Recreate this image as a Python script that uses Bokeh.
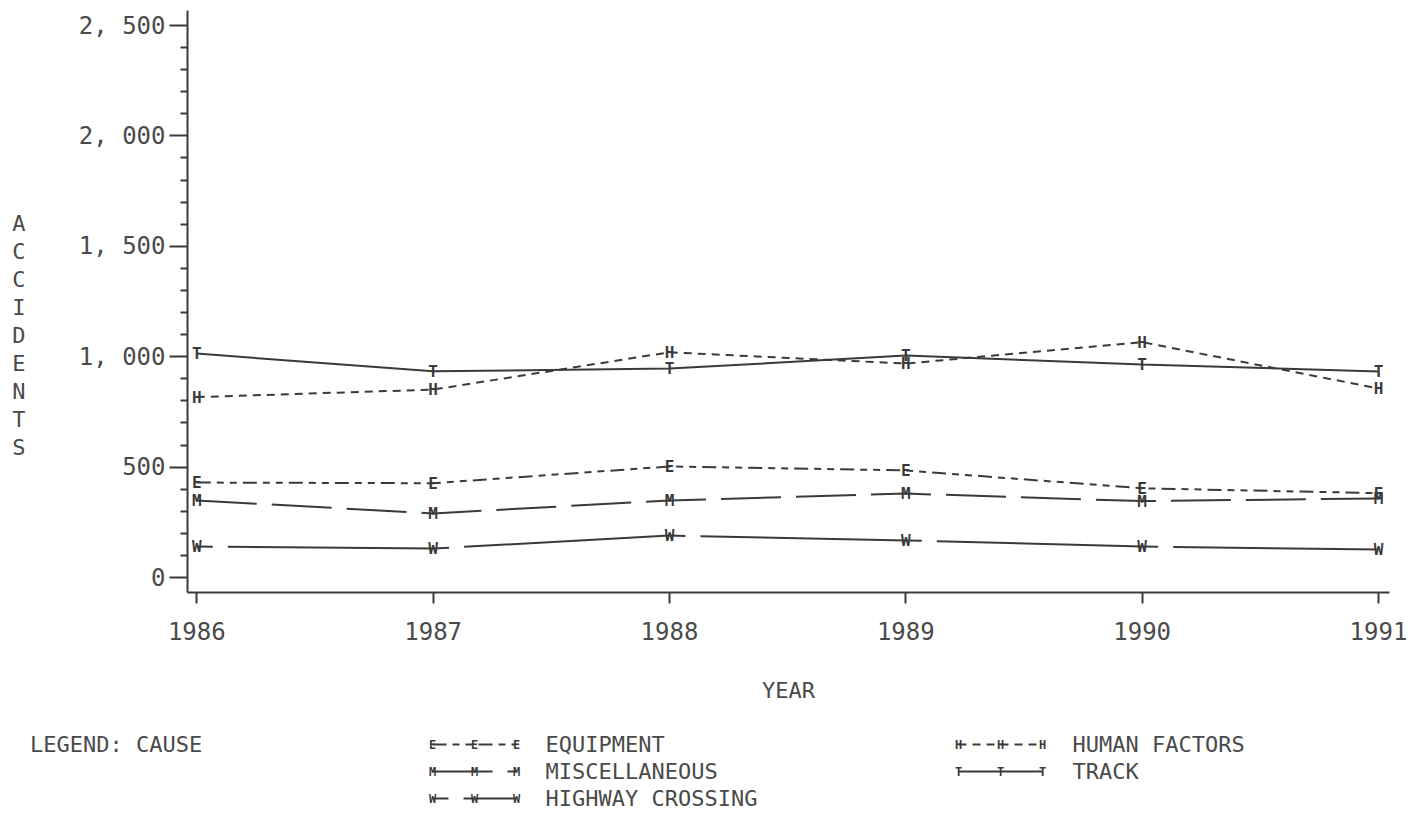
from bokeh.plotting import figure
from bokeh.models import Range1d, FixedTicker, LinearAxis
from bokeh.layouts import column
from bokeh.embed import file_html
from bokeh.resources import INLINE
from bokeh.core.properties import value

# ---- data ----
years = [1986, 1987, 1988, 1989, 1990, 1991]
equipment = [430, 427, 503, 485, 404, 382]
human_factors = [817, 851, 1020, 969, 1066, 856]
miscellaneous = [349, 290, 349, 380, 346, 358]
highway_crossing = [140, 131, 190, 168, 140, 127]
track = [1014, 934, 946, 1005, 965, 933]

y_ticks = [0, 500, 1000, 1500, 2000, 2500]
y_tick_labels = ["0", "500", "1, 000", "1, 500", "2, 000", "2, 500"]
y_minor_ticks = [100, 200, 300, 400, 600, 700, 800, 900, 1100, 1200, 1300, 1400,
                 1600, 1700, 1800, 1900, 2100, 2200, 2300, 2400]
y_title = "ACCIDENTS"
x_title = "YEAR"
legend_title = "LEGEND:  CAUSE"

series_names = ["EQUIPMENT", "MISCELLANEOUS", "HIGHWAY CROSSING", "HUMAN FACTORS", "TRACK"]
series_values = [equipment, miscellaneous, highway_crossing, human_factors, track]
series_letters = ["E", "M", "W", "H", "T"]

# ---- styles / layout ----
FONT = "DejaVu Sans Mono"
INK = "#3a3a3a"
TXT = "#4a4a4a"
dashes = {"EQUIPMENT": "14 6 7 6 7 6", "MISCELLANEOUS": "60 15",
          "HIGHWAY CROSSING": "16 15 3000", "HUMAN FACTORS": "8 6", "TRACK": "solid"}
segmented = {"HIGHWAY CROSSING"}

PX_PER_YEAR = 236.24
PX_PER_UNIT = 0.2208


def xpx(px):
    return years[0] + (px - 196.8) / PX_PER_YEAR


def ypx(py):
    return (577 - py) / PX_PER_UNIT


W = 1416
LEFT, RIGHT, TOP = 187, 27, 10
MAIN_H = 711

p = figure(width=W, height=MAIN_H,
           x_range=Range1d(xpx(187.5), xpx(1389)), y_range=Range1d(ypx(592), ypx(10)),
           output_backend="svg", toolbar_location=None,
           min_border_left=LEFT, min_border_right=RIGHT, min_border_top=TOP,
           min_border_bottom=MAIN_H - TOP - 582)
p.outline_line_color = None
p.grid.visible = False
p.background_fill_color = "white"
p.border_fill_color = "white"

xa = p.xaxis[0]
xa.ticker = FixedTicker(ticks=years, minor_ticks=[])
xa.major_tick_out = 11
xa.major_tick_in = 0
xa.minor_tick_out = 0
xa.minor_tick_in = 0
xa.axis_line_color = INK
xa.axis_line_width = 2
xa.major_tick_line_color = INK
xa.major_tick_line_width = 2
xa.major_label_text_font = FONT
xa.major_label_text_font_size = "24px"
xa.major_label_text_color = TXT
xa.major_label_standoff = 18
xa.axis_label = x_title
xa.axis_label_text_font = FONT
xa.axis_label_text_font_size = "22px"
xa.axis_label_text_font_style = "normal"
xa.axis_label_text_color = TXT
xa.axis_label_standoff = 35

ya = p.yaxis[0]
ya.ticker = FixedTicker(ticks=y_ticks, minor_ticks=y_minor_ticks)
ya.major_label_overrides = dict(zip(y_ticks, y_tick_labels))
ya.major_tick_out = 18
ya.major_tick_in = 0
ya.minor_tick_out = 7
ya.minor_tick_in = 0
ya.axis_line_color = INK
ya.axis_line_width = 2
ya.major_tick_line_color = INK
ya.major_tick_line_width = 2
ya.minor_tick_line_color = INK
ya.minor_tick_line_width = 2
ya.major_label_text_font = FONT
ya.major_label_text_font_size = "24px"
ya.major_label_text_color = TXT
ya.major_label_standoff = 4

# stacked vertical title: one letter per (invisible) tick of an extra left axis
title_pos = [round(ypx(223 + 28 * k)) for k in range(len(y_title))]
ta = LinearAxis(ticker=FixedTicker(ticks=title_pos, minor_ticks=[]),
                major_label_overrides=dict(zip(title_pos, list(y_title))))
ta.axis_line_color = None
ta.major_tick_line_color = None
ta.minor_tick_line_color = None
ta.major_tick_out = 0
ta.major_tick_in = 0
ta.major_label_text_font = FONT
ta.major_label_text_font_size = "22px"
ta.major_label_text_color = TXT
ta.major_label_standoff = 50
p.add_layout(ta, "left")

for name, vals, letter in zip(series_names, series_values, series_letters):
    if name in segmented:
        p.segment(x0=years[:-1], y0=vals[:-1], x1=years[1:], y1=vals[1:],
                  line_color=INK, line_width=2, line_dash=dashes[name])
    else:
        p.line(years, vals, line_color=INK, line_width=2, line_dash=dashes[name])
    p.text(x=years, y=vals, text=[letter] * len(years), text_align="center",
           text_baseline="middle", text_font=value(FONT), text_font_size="16px",
           text_color=INK, text_font_style="bold")

# ---- legend panel (page-pixel coordinates) ----
LEG_H = 102
lg = figure(width=W, height=LEG_H,
            x_range=Range1d(LEFT, W - RIGHT), y_range=Range1d(MAIN_H + LEG_H, MAIN_H),
            output_backend="svg", toolbar_location=None,
            min_border_left=LEFT, min_border_right=RIGHT, min_border_top=0, min_border_bottom=0,
            x_axis_location=None)
lg.outline_line_color = None
lg.grid.visible = False
lg.background_fill_color = "white"
lg.border_fill_color = "white"

rows = [744, 771, 798]
la = lg.yaxis[0]
la.ticker = FixedTicker(ticks=[rows[0]], minor_ticks=[])
la.major_label_overrides = {rows[0]: legend_title}
la.axis_line_color = None
la.major_tick_line_color = None
la.minor_tick_line_color = None
la.major_tick_out = 0
la.major_tick_in = 0
la.major_label_text_font = FONT
la.major_label_text_font_size = "22px"
la.major_label_text_color = TXT
la.major_label_standoff = -28

slots = [(0, 0), (0, 1), (0, 2), (1, 0), (1, 1)]
sample_x0 = [432, 958]
text_x = [545, 1072]
for (col, row), name, letter in zip(slots, series_names, series_letters):
    x0 = sample_x0[col]
    yy = rows[row]
    if name in segmented:
        lg.segment(x0=[x0], y0=[yy], x1=[x0 + 84], y1=[yy], line_color=INK, line_width=2,
                   line_dash=dashes[name])
    else:
        lg.line([x0, x0 + 84], [yy, yy], line_color=INK, line_width=2, line_dash=dashes[name])
    lg.text(x=[x0, x0 + 42, x0 + 84], y=[yy] * 3, text=[letter] * 3, text_align="center",
            text_baseline="middle", text_font=value(FONT), text_font_size="12px",
            text_color=INK, text_font_style="bold")
    lg.text(x=[text_x[col]], y=[yy], text=[name], text_align="left", text_baseline="middle",
            text_font=value(FONT), text_font_size="22px", text_color=TXT)

layout = column(p, lg, spacing=0)
open("out.html", "w").write(file_html(layout, INLINE))
